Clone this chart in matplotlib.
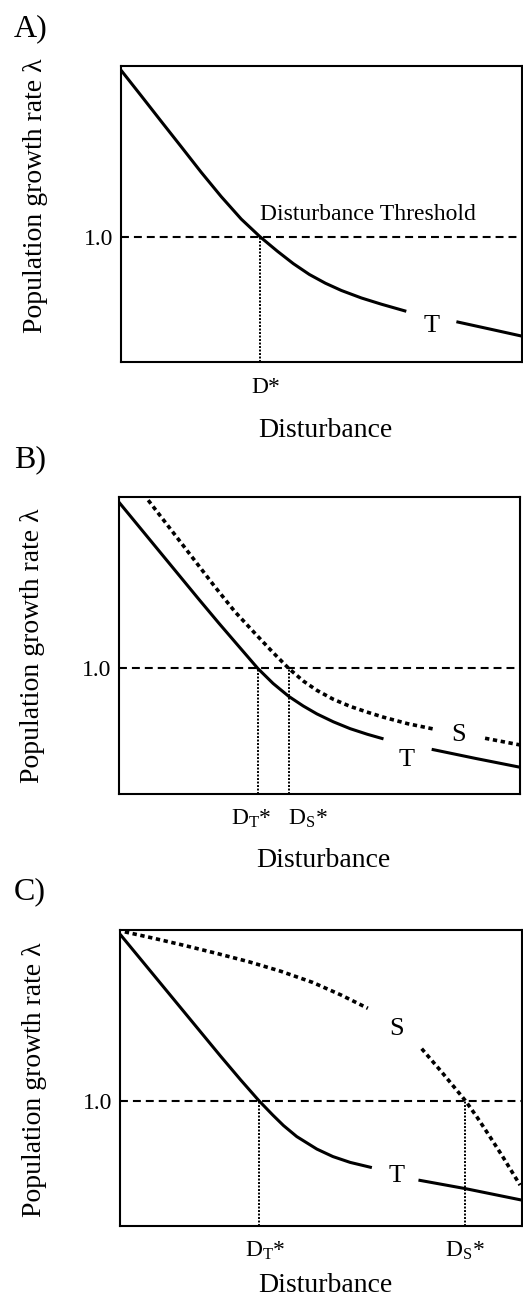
import matplotlib
matplotlib.use("Agg")
import matplotlib.pyplot as plt
import matplotlib.transforms as mtransforms

plt.rcParams['font.family'] = ['Liberation Serif', 'DejaVu Serif']
plt.rcParams['mathtext.fontset'] = 'custom'
plt.rcParams['mathtext.rm'] = 'Liberation Serif'
plt.rcParams['mathtext.it'] = 'Liberation Serif:italic'

# ---------------- data ----------------
threshold = 1.0
x_limits = (0, 10)
y_limits = (0.4, 1.82)

# Panel A: species T
A_T1_x = [0.0, 0.5, 1.0, 1.5, 2.0, 2.5, 3.0, 3.47, 3.9, 4.3, 4.7, 5.1, 5.5, 6.0, 6.5, 7.12]
A_T1_y = [1.80, 1.678, 1.555, 1.433, 1.31, 1.193, 1.085, 1.0, 0.931, 0.871, 0.819, 0.777, 0.742, 0.706, 0.676, 0.642]
A_T2_x = [8.37, 9.2, 10.0]
A_T2_y = [0.592, 0.557, 0.523]
A_Dstar = [3.47]

# Panel B: species T and S
B_T1_x = [0.0, 0.5, 1.0, 1.5, 2.0, 2.5, 3.0, 3.47, 3.85, 4.24, 4.6, 4.94, 5.35, 5.77, 6.2, 6.6]
B_T1_y = [1.80, 1.683, 1.566, 1.449, 1.332, 1.217, 1.105, 1.0, 0.928, 0.866, 0.82, 0.782, 0.744, 0.711, 0.684, 0.662]
B_T2_x = [7.8, 8.9, 10.0]
B_T2_y = [0.612, 0.568, 0.526]
B_S1_x = [0.74, 1.57, 2.4, 2.9, 3.4, 3.85, 4.24, 4.6, 4.94, 5.35, 5.77, 6.2, 6.6, 7.2, 7.88]
B_S1_y = [1.807, 1.60, 1.392, 1.272, 1.168, 1.076, 1.0, 0.94, 0.895, 0.852, 0.818, 0.79, 0.766, 0.735, 0.708]
B_S2_x = [9.13, 10.0]
B_S2_y = [0.665, 0.633]
B_Dstar = [3.47, 4.24]

# Panel C: species T and S
C_T1_x = [0.0, 0.5, 1.0, 1.5, 2.0, 2.5, 3.0, 3.46, 3.8, 4.07, 4.4, 4.9, 5.3, 5.73, 6.27]
C_T1_y = [1.80, 1.683, 1.566, 1.449, 1.332, 1.215, 1.101, 1.0, 0.932, 0.881, 0.828, 0.768, 0.732, 0.704, 0.679]
C_T2_x = [7.43, 8.6, 10.0]
C_T2_y = [0.619, 0.578, 0.523]
C_S1_x = [0.12, 0.8, 1.6, 2.4, 3.2, 4.0, 4.8, 5.5, 6.17]
C_S1_y = [1.811, 1.782, 1.746, 1.708, 1.668, 1.622, 1.568, 1.508, 1.444]
C_S2_x = [7.51, 8.0, 8.3, 8.6, 8.9, 9.2, 9.5, 9.96]
C_S2_y = [1.25, 1.14, 1.07, 1.0, 0.918, 0.83, 0.74, 0.595]
C_Dstar = [3.46, 8.6]

panel_letters = ['A)', 'B)', 'C)']
ylabel_text = 'Population growth rate λ'
xlabel_text = 'Disturbance'

# ---------------- styles / layout ----------------
fig = plt.figure(figsize=(5.23, 12.99), dpi=100)
W, H = 523.0, 1299.0

def px_axes(left, top, right, bottom):
    return fig.add_axes([left / W, 1 - bottom / H, (right - left) / W, (bottom - top) / H])

T_style = dict(color='black', lw=2.2, solid_capstyle='butt')
S_style = dict(color='black', lw=2.6, linestyle=(0, (1.2, 1.0)))
thr_style = dict(color='black', lw=1.5, linestyle=(0, (3.8, 2.4)))
dot_style = dict(color='black', lw=1.4, linestyle=(0, (1.0, 0.8)))

axA = px_axes(121, 66, 521.7, 361.7)
axB = px_axes(118.5, 497.5, 520, 793.5)
axC = px_axes(120, 930, 521.7, 1225.7)

def setup(ax, ylab_y, xlab_y):
    ax.set_xlim(*x_limits)
    ax.set_ylim(*y_limits)
    for s in ax.spines.values():
        s.set_linewidth(1.5)
    ax.set_xticks([])
    ax.set_yticks([threshold])
    ax.set_yticklabels(['1.0'])
    ax.tick_params(axis='y', length=0, pad=5.5, labelsize=17)
    ax.axhline(threshold, **thr_style)
    ax.set_ylabel(ylabel_text, fontsize=20)
    ax.yaxis.set_label_coords(-0.182, ylab_y)
    ax.text(0.51, xlab_y, xlabel_text, transform=ax.transAxes,
            ha='center', va='baseline', fontsize=20)

def dstar_lines(ax, xs):
    for x in xs:
        ax.plot([x, x], [y_limits[0], threshold], **dot_style)

def dlabel(ax, xc, text):
    tr = mtransforms.blended_transform_factory(ax.transData, ax.transAxes)
    ax.text(xc, -0.106, text, transform=tr, ha='center', va='baseline', fontsize=17)

# Panel A
setup(axA, 0.56, -0.254)
axA.plot(A_T1_x, A_T1_y, **T_style)
axA.plot(A_T2_x, A_T2_y, **T_style)
dstar_lines(axA, A_Dstar)
dlabel(axA, 3.62, 'D*')
axA.text(A_Dstar[0], 1.08, 'Disturbance Threshold', ha='left', va='baseline', fontsize=17)
axA.text(7.75, 0.542, 'T', ha='center', va='baseline', fontsize=19)

# Panel B
setup(axB, 0.498, -0.247)
axB.plot(B_T1_x, B_T1_y, **T_style)
axB.plot(B_T2_x, B_T2_y, **T_style)
axB.plot(B_S1_x, B_S1_y, **S_style)
axB.plot(B_S2_x, B_S2_y, **S_style)
dstar_lines(axB, B_Dstar)
dlabel(axB, 3.30, 'D$_{\\mathrm{T}}$*')
dlabel(axB, 4.72, 'D$_{\\mathrm{S}}$*')
axB.text(7.18, 0.532, 'T', ha='center', va='baseline', fontsize=19)
axB.text(8.46, 0.652, 'S', ha='center', va='baseline', fontsize=19)

# Panel C
setup(axC, 0.493, -0.225)
axC.plot(C_T1_x, C_T1_y, **T_style)
axC.plot(C_T2_x, C_T2_y, **T_style)
axC.plot(C_S1_x, C_S1_y, **S_style)
axC.plot(C_S2_x, C_S2_y, **S_style)
dstar_lines(axC, C_Dstar)
dlabel(axC, 3.61, 'D$_{\\mathrm{T}}$*')
dlabel(axC, 8.59, 'D$_{\\mathrm{S}}$*')
axC.text(6.89, 0.611, 'T', ha='center', va='baseline', fontsize=19)
axC.text(6.89, 1.316, 'S', ha='center', va='baseline', fontsize=19)

# Panel letters
for letter, base in zip(panel_letters, [36, 467, 899]):
    fig.text(14 / W, 1 - base / H, letter, ha='left', va='baseline', fontsize=23)

fig.savefig('out.png', dpi=100)
